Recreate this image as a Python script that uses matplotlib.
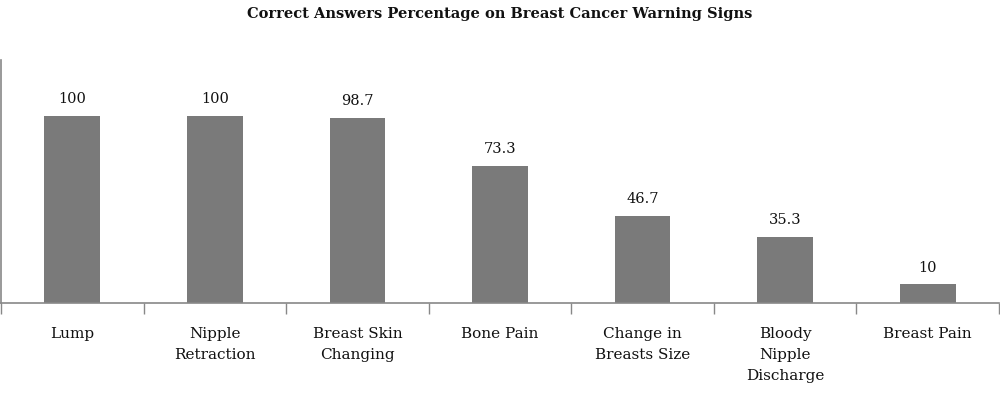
import matplotlib
matplotlib.use("Agg")
import matplotlib.pyplot as plt
import numpy as np

categories = ["Lump", "Nipple\nRetraction", "Breast Skin\nChanging", "Bone Pain",
              "Change in\nBreasts Size", "Bloody\nNipple\nDischarge", "Breast Pain"]
values = [100, 100, 98.7, 73.3, 46.7, 35.3, 10]
value_labels = ["100", "100", "98.7", "73.3", "46.7", "35.3", "10"]
title = "Correct Answers Percentage on Breast Cancer Warning Signs"

plt.rcParams['font.family'] = ['DejaVu Serif']

fig = plt.figure(figsize=(10, 3.96), dpi=100)
ax = fig.add_axes([0.001, 0.235, 0.998, 0.613])

x = np.arange(len(categories))
ax.bar(x, values, width=0.39, color="#7a7a7a", zorder=2)
for xi, v, lab in zip(x, values, value_labels):
    ax.annotate(lab, (xi, v), xytext=(0, 7), textcoords="offset points",
                ha="center", va="bottom", fontsize=10.5, color="#111111")

ax.set_xlim(-0.5, len(categories) - 0.5)
ax.set_ylim(0, 129.7)
ax.set_yticks([])
ax.set_xticks(np.arange(len(categories) + 1) - 0.5, minor=False)
ax.set_xticklabels([])
ax.tick_params(axis="x", which="major", length=8, width=1, color="#888888", direction="out")
ax.set_xticks(x, minor=True)
ax.set_xticklabels(categories, minor=True, fontsize=11, color="#111111", linespacing=1.65, va="top")
ax.tick_params(axis="x", which="minor", length=0, pad=17)

for s in ["top", "right"]:
    ax.spines[s].set_visible(False)
for s in ["left", "bottom"]:
    ax.spines[s].set_color("#888888")
    ax.spines[s].set_linewidth(1.2)

fig.text(0.5, 0.965, title, ha="center", va="center", fontsize=10.5, fontweight="bold", color="#111111")

fig.savefig("out.png", dpi=100)
